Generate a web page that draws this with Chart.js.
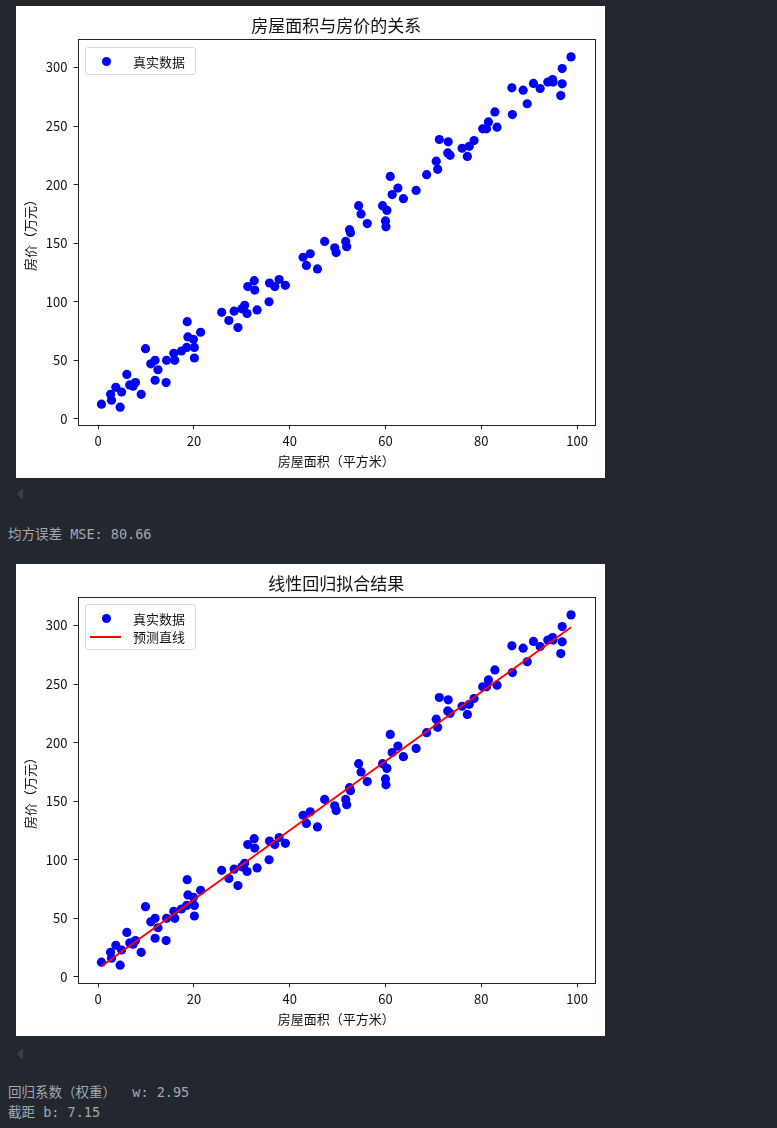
<!DOCTYPE html>
<html>
<head>
<meta charset="utf-8">
<script src="https://cdn.jsdelivr.net/npm/chart.js@4.4.0/dist/chart.umd.min.js"></script>
<style>
  html, body { margin: 0; padding: 0; background: #23272e; width: 777px; height: 1128px; overflow: hidden; }
  .fig { position: absolute; left: 16px; width: 589px; height: 472px; background: #fff; }
  .fig canvas { position: absolute; left: 0; top: 0; }
  .legend { position: absolute; left: 69px; top: 41px; width: 109px; padding: 5px 0 3px 0;
            border: 1px solid #d9d9d9; border-radius: 3px; background: rgba(255,255,255,0.8);
            font: 13px "Noto Sans CJK SC", sans-serif; color: #111; }
  .row { position: relative; height: 18px; line-height: 18px; padding-left: 47px; }
  .dot { position: absolute; left: 16px; top: 4px; width: 9px; height: 9px; border-radius: 50%; background: #00f; }
  .ln { position: absolute; left: 4px; top: 8px; width: 31px; height: 2px; background: #f00; }
  .out { position: absolute; left: 8px; font: 13.5px "DejaVu Sans Mono", "Noto Sans CJK SC", monospace;
         color: #a3a8b0; white-space: pre; line-height: 19.6px; }
  .tri { position: absolute; left: 17px; width: 0; height: 0; border-top: 6px solid transparent;
         border-bottom: 6px solid transparent; border-right: 6px solid #3b4049; }
</style>
</head>
<body>
<div class="fig" style="top:6px">
  <canvas id="c1" width="589" height="472"></canvas>
  <div class="legend">
    <div class="row"><span class="dot"></span>真实数据</div>
  </div>
</div>
<div class="tri" style="top:488px"></div>
<div class="out" style="top:525px">均方误差 MSE: 80.66</div>

<div class="fig" style="top:564px">
  <canvas id="c2" width="589" height="472"></canvas>
  <div class="legend" style="top:40px">
    <div class="row"><span class="dot"></span>真实数据</div>
    <div class="row"><span class="ln"></span>预测直线</div>
  </div>
</div>
<div class="tri" style="top:1048px"></div>
<div class="out" style="top:1083px">回归系数（权重）  w: 2.95
截距 b: 7.15</div>

<script>
// house area (m2) and price (10k yuan)
var areaX = [0.7, 2.6, 2.8, 3.7, 4.6, 4.9, 6.0, 6.6, 7.3, 7.8,
             9.0, 9.9, 11.0, 11.9, 12.5, 11.9, 14.2, 14.3, 15.8, 16.0,
             17.4, 18.5, 18.6, 18.75, 20.1, 20.1, 19.9, 21.4, 25.8, 27.3,
             28.4, 29.2, 30.0, 30.6, 31.1, 31.25, 32.6, 33.2, 32.7, 35.7,
             35.8, 36.9, 37.8, 39.1, 42.8, 43.5, 44.3, 45.8, 47.3, 49.4,
             49.7, 51.7, 51.9, 52.5, 52.7, 54.4, 54.9, 56.2, 59.4, 60.0,
             60.1, 60.3, 61.0, 61.4, 62.6, 63.75, 66.4, 68.6, 70.6, 70.9,
             71.25, 73.1, 73.0, 73.5, 76.0, 77.1, 77.5, 78.5, 80.3, 81.1,
             81.5, 82.85, 83.3, 86.4, 86.5, 88.75, 89.6, 90.9, 92.3, 93.9,
             94.9, 95.0, 96.6, 96.9, 96.9, 98.75];
var priceY = [12.6, 21, 16, 27, 10, 23, 38, 29, 28, 31,
              21, 60, 47, 50, 42, 33, 31, 50, 56, 50,
              58, 61, 83, 70, 61, 52, 68, 74, 91, 84,
              92, 78, 94, 97, 90, 113, 118, 93, 110, 100,
              116, 113, 119, 114, 138, 131, 141, 128, 151.5, 146,
              142, 151.5, 147, 161.5, 159, 182, 175, 166.7, 182, 169,
              164, 178, 207, 191.5, 197, 188, 195, 208.5, 220, 213,
              238.5, 236.5, 227, 225, 231, 224, 232.7, 237.6, 247.6, 247.6,
              253.5, 262, 249, 282.6, 259.8, 280.6, 269, 286.3, 282, 287.5,
              289.7, 287.5, 276, 286, 299, 309];

// fitted line end points
var fitX = [0.7, 98.75];
var fitY = [9.2, 298.5];

var xTicks = [0, 20, 40, 60, 80, 100];
var yTicks = [0, 50, 100, 150, 200, 250, 300];

var FONT = '"Noto Sans CJK SC", "Noto Sans", sans-serif';
var INK = '#111';

function toPoints(xs, ys) {
  return xs.map(function (x, i) { return { x: x, y: ys[i] }; });
}

// matplotlib style box round the plot area
var framePlugin = {
  id: 'frame',
  afterDraw: function (chart) {
    var a = chart.chartArea, ctx = chart.ctx;
    ctx.save();
    ctx.strokeStyle = '#222';
    ctx.lineWidth = 1;
    ctx.strokeRect(Math.round(a.left) + 0.5, Math.round(a.top) + 0.5,
                   Math.round(a.right - a.left), Math.round(a.bottom - a.top));
    ctx.restore();
  }
};

function axis(tickVals, min, max, titleText, isX) {
  return {
    type: 'linear',
    min: min,
    max: max,
    border: { display: false },
    grid: { drawOnChartArea: false, drawTicks: true, tickLength: 4.5, tickColor: '#222', lineWidth: 1 },
    afterBuildTicks: function (scale) {
      scale.ticks = tickVals.map(function (v) { return { value: v }; });
    },
    ticks: { color: INK, padding: isX ? 4 : 6, maxRotation: 0, font: { family: FONT, size: 13 } },
    title: {
      display: true, text: titleText, color: INK,
      font: { family: FONT, size: 13 },
      padding: isX ? { top: 0, bottom: 9.5 } : { top: 6, bottom: 0 }
    },
    afterFit: function (scale) {
      if (isX) { scale.height = 53.2; } else { scale.width = 62; }
    }
  };
}

function makeChart(id, titleText, datasets) {
  return new Chart(document.getElementById(id), {
    type: 'scatter',
    data: { datasets: datasets },
    plugins: [framePlugin],
    options: {
      responsive: false,
      animation: false,
      layout: { padding: { left: 0, right: 10.5, top: 0, bottom: 0 } },
      plugins: {
        legend: { display: false },
        tooltip: { enabled: false },
        title: {
          display: true, text: titleText, color: INK, fullSize: false,
          font: { family: FONT, size: 17, weight: 'normal' },
          padding: { top: 9.8, bottom: 3.1 }
        }
      },
      scales: {
        x: axis(xTicks, -4.2, 103.65, '房屋面积（平方米）', true),
        y: axis(yTicks, -5, 324, '房价（万元）', false)
      }
    }
  });
}

var scatterSet = function () {
  return {
    label: '真实数据',
    data: toPoints(areaX, priceY),
    backgroundColor: '#0000ff',
    borderColor: '#0000ff',
    borderWidth: 0,
    pointRadius: 4.6,
    order: 1
  };
};

makeChart('c1', '房屋面积与房价的关系', [scatterSet()]);

makeChart('c2', '线性回归拟合结果', [
  scatterSet(),
  {
    label: '预测直线',
    data: toPoints(fitX, fitY),
    showLine: true,
    borderColor: '#ff0000',
    borderWidth: 1.9,
    pointRadius: 0,
    order: 0
  }
]);
</script>
</body>
</html>
